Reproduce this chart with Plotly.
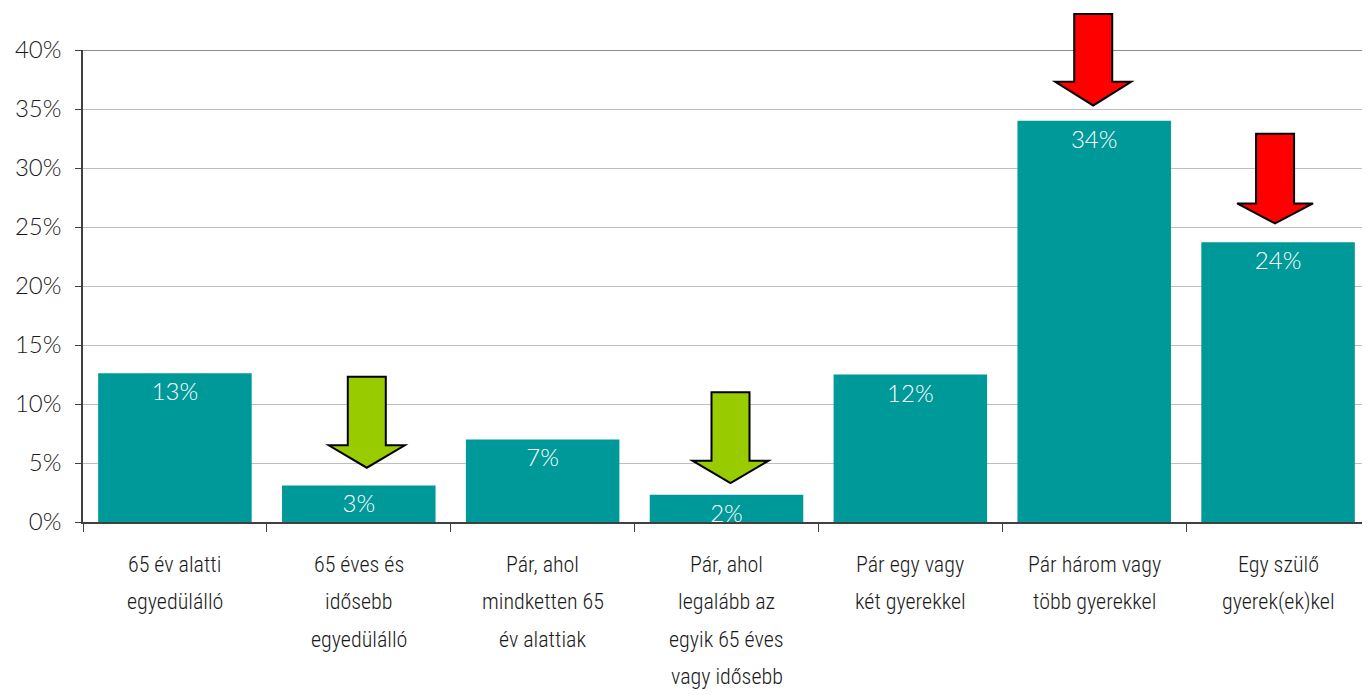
import plotly.graph_objects as go

categories = [
    "65 év alatti<br>egyedülálló",
    "65 éves és<br>idősebb<br>egyedülálló",
    "Pár, ahol<br>mindketten 65<br>év alattiak",
    "Pár, ahol<br>legalább az<br>egyik 65 éves<br>vagy idősebb",
    "Pár egy vagy<br>két gyerekkel",
    "Pár három vagy<br>több gyerekkel",
    "Egy szülő<br>gyerek(ek)kel",
]
values = [12.6, 3.1, 7.0, 2.3, 12.5, 34.0, 23.7]
y_ticks = [0, 5, 10, 15, 20, 25, 30, 35, 40]
y_ticklabels = ["0%", "5%", "10%", "15%", "20%", "25%", "30%", "35%", "40%"]

# arrows: (category index, top, shaft bottom, tip) in % units, colour, x offset px
arrows = [
    (1, 12.3, 6.5, 4.6, "#99CC00", 8),
    (3, 11.0, 5.2, 3.3, "#99CC00", 4),
    (5, 43.05, 37.3, 35.3, "#FF0000", -1),
    (6, 32.9, 27.0, 25.3, "#FF0000", -3),
]

# page body has an 8px margin, so the figure starts at (8, 8)
W, H = 1362, 687
ML, MR, MT, MB = 75, 0, 42, 173
PW = W - ML - MR
PH = H - MT - MB
YMAX = 40
FONT_C = "Roboto Condensed, Liberation Sans Narrow, DejaVu Sans Condensed, sans-serif"
FONT = "Lato, Open Sans, sans-serif"

n = len(categories)
x_keys = [f"c{i}" for i in range(n)]

fig = go.Figure()
fig.add_trace(go.Bar(
    x=x_keys, y=values,
    marker=dict(color="#009999", line=dict(width=0)),
    text=[f"{round(v):.0f}%" for v in values],
    textposition="inside", insidetextanchor="end", textangle=0,
    textfont=dict(color="white", size=24, family=FONT, weight=300),
    constraintext="none",
    hoverinfo="skip",
))

shapes = []
shapes.append(dict(type="line", xref="paper", yref="y", x0=0, x1=1, y0=40, y1=40,
                   line=dict(color="#8C8C8C", width=2), layer="below"))

sw = 19 / PW
hw = 38 / PW
for idx, top, sb, tip, col, off in arrows:
    cx = (idx + 0.5) / n + off / PW
    yt, ys, yp = top / YMAX, sb / YMAX, tip / YMAX
    path = (f"M {cx - sw} {yt} L {cx + sw} {yt} L {cx + sw} {ys} L {cx + hw} {ys} "
            f"L {cx} {yp} L {cx - hw} {ys} L {cx - sw} {ys} Z")
    shapes.append(dict(type="path", xref="paper", yref="paper", path=path,
                       fillcolor=col, line=dict(color="black", width=2), layer="above"))

annotations = []
line_pitch = 37.5
for i, cat in enumerate(categories):
    for j, line in enumerate(cat.split("<br>")):
        annotations.append(dict(
            x=x_keys[i], xref="x", y=0, yref="paper", yanchor="middle", xanchor="center",
            yshift=-(42 + j * line_pitch), text=line, showarrow=False,
            font=dict(size=22, color="#1a1a1a", family=FONT_C, weight=300),
        ))

fig.update_layout(
    width=W, height=H,
    margin=dict(l=ML, r=MR, t=MT, b=MB, pad=0),
    plot_bgcolor="white", paper_bgcolor="white",
    bargap=0.165,
    showlegend=False,
    shapes=shapes,
    annotations=annotations,
    uniformtext=dict(minsize=22, mode="show"),
    xaxis=dict(
        type="category", categoryorder="array", categoryarray=x_keys,
        showticklabels=False,
        tickson="boundaries", ticks="outside", ticklen=8, tickcolor="#404040",
        showline=True, linecolor="#404040", linewidth=2,
        showgrid=False, zeroline=False, fixedrange=True,
    ),
    yaxis=dict(
        range=[0, YMAX], tickmode="array", tickvals=y_ticks, ticktext=y_ticklabels,
        ticks="outside", ticklen=6, tickcolor="#404040",
        showline=True, linecolor="#404040", linewidth=1.5,
        showgrid=True, gridcolor="#BFBFBF", gridwidth=1,
        zeroline=False,
        tickfont=dict(size=24, color="#1a1a1a", family=FONT, weight=300),
        ticklabelstandoff=9,
    ),
)

fig.write_html("out.html")
